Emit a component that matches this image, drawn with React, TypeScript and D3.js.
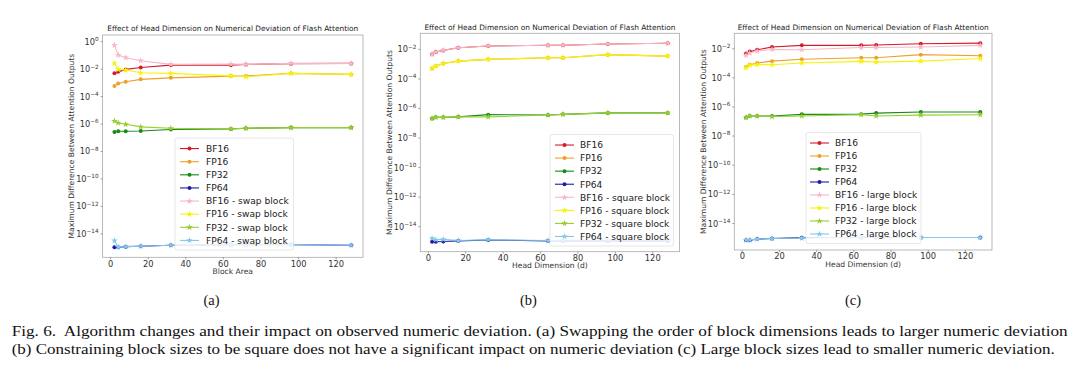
import React, { useEffect, useRef } from "react";
import * as d3 from "d3";

const W = 1080;
const H = 373;

// x positions shared by every series
const sizes = [2, 4, 8, 16, 32, 64, 72, 96, 128];
const precisions = ["BF16", "FP16", "FP32", "FP64"];
const baseColors = ["#d21c2c", "#f0a02a", "#178a17", "#1c1ca6"];
const variantColors = ["#f7b8c6", "#f4f40a", "#9acd32", "#86c8e8"];
const yTickExps = [0, -2, -4, -6, -8, -10, -12, -14];
const xTicks = [0, 20, 40, 60, 80, 100, 120];
const titleText = "Effect of Head Dimension on Numerical Deviation of Flash Attention";
const yLabelText = "Maximum Difference Between Attention Outputs";

// (a) swap block
const aBase = [
  [4.9e-3, 6.3e-3, 9.5e-3, 1.3e-2, 1.95e-2, 1.95e-2, 2.2e-2, 2.5e-2, 2.6e-2],
  [5.8e-4, 9.1e-4, 1.2e-3, 1.8e-3, 2.3e-3, 3.1e-3, 3.2e-3, 4.9e-3, 4.1e-3],
  [2.6e-7, 2.95e-7, 2.95e-7, 3.1e-7, 4.0e-7, 4.4e-7, 4.9e-7, 5.5e-7, 5.5e-7],
  [1.07e-15, 1.07e-15, 1.17e-15, 1.26e-15, 1.48e-15, 1.6e-15, 1.6e-15, 1.66e-15, 1.48e-15],
];
const aVariant = [
  [5.6e-1, 1.05e-1, 6.8e-2, 4.1e-2, 2.2e-2, 2.3e-2, 2.2e-2, 2.6e-2, 2.6e-2],
  [2.6e-2, 9.5e-3, 8.5e-3, 5.4e-3, 4.9e-3, 3.2e-3, 2.75e-3, 4.9e-3, 4.1e-3],
  [1.66e-6, 1.2e-6, 9.5e-7, 6.2e-7, 4.9e-7, 4.4e-7, 4.9e-7, 5.5e-7, 5.5e-7],
  [3.2e-15, 1.07e-15, 1.17e-15, 1.26e-15, 1.48e-15, 1.6e-15, 1.6e-15, 1.66e-15, 1.48e-15],
];

// (b) square block
const bBase = [
  [4.6e-3, 6.6e-3, 8.5e-3, 1.3e-2, 1.7e-2, 1.9e-2, 1.9e-2, 2.3e-2, 2.6e-2],
  [5.1e-4, 7.4e-4, 1.1e-3, 1.6e-3, 2.1e-3, 2.7e-3, 2.7e-3, 4.4e-3, 3.5e-3],
  [2.1e-7, 2.5e-7, 2.5e-7, 2.7e-7, 3.8e-7, 3.6e-7, 4.0e-7, 5.0e-7, 5.0e-7],
  [9.5e-16, 9.5e-16, 1.0e-15, 1.1e-15, 1.26e-15, 1.1e-15, 1.1e-15, 1.1e-15, 1.1e-15],
];
const bVariant = [
  [4.6e-3, 6.6e-3, 8.5e-3, 1.3e-2, 1.7e-2, 1.9e-2, 1.9e-2, 2.3e-2, 2.6e-2],
  [5.1e-4, 7.4e-4, 1.1e-3, 1.6e-3, 2.1e-3, 2.7e-3, 2.7e-3, 4.4e-3, 3.5e-3],
  [2.1e-7, 2.5e-7, 2.5e-7, 2.7e-7, 2.7e-7, 3.6e-7, 4.0e-7, 5.0e-7, 5.0e-7],
  [1.6e-15, 1.3e-15, 1.4e-15, 1.15e-15, 1.3e-15, 1.15e-15, 1.2e-15, 1.2e-15, 1.2e-15],
];

// (c) large block
const cBase = [
  [4.6e-3, 6.3e-3, 8.5e-3, 1.3e-2, 1.7e-2, 1.7e-2, 1.8e-2, 2.2e-2, 2.4e-2],
  [5.5e-4, 7.9e-4, 1.05e-3, 1.4e-3, 1.9e-3, 2.4e-3, 2.4e-3, 3.9e-3, 3.3e-3],
  [1.9e-7, 2.4e-7, 2.4e-7, 2.4e-7, 3.1e-7, 3.2e-7, 3.8e-7, 4.5e-7, 4.5e-7],
  [7.2e-16, 7.2e-16, 8.5e-16, 9.3e-16, 1.07e-15, 1.1e-15, 1.1e-15, 1.1e-15, 1.1e-15],
];
const cVariant = [
  [3.5e-3, 5.0e-3, 6.9e-3, 8.9e-3, 8.5e-3, 1.2e-2, 1.2e-2, 1.3e-2, 1.7e-2],
  [4.8e-4, 7.1e-4, 8.1e-4, 7.9e-4, 1.05e-3, 1.35e-3, 1.2e-3, 1.4e-3, 2.1e-3],
  [1.9e-7, 2.4e-7, 2.4e-7, 2.2e-7, 2.4e-7, 2.95e-7, 2.4e-7, 2.75e-7, 2.95e-7],
  [7.2e-16, 7.4e-16, 8.5e-16, 9.3e-16, 1.0e-15, 1.15e-15, 1.15e-15, 1.1e-15, 1.1e-15],
];

const panels = [
  {
    base: aBase, variant: aVariant, suffix: "swap block", xLabel: "Block Area", sub: "(a)", subX: 211.5,
    frame: { left: 102.6, right: 363, top: 35, bottom: 257.3 },
    legend: { x: 175, y: 138, w: 118.5, h: 112, hx: 180, tx: 206 },
  },
  {
    base: bBase, variant: bVariant, suffix: "square block", xLabel: "Head Dimension (d)", sub: "(b)", subX: 528.5,
    frame: { left: 420.3, right: 679.5, top: 33.3, bottom: 251.7 },
    legend: { x: 550, y: 134.5, w: 123.5, h: 111.5, hx: 555, tx: 580 },
  },
  {
    base: cBase, variant: cVariant, suffix: "large block", xLabel: "Head Dimension (d)", sub: "(c)", subX: 853,
    frame: { left: 734.3, right: 992, top: 33.3, bottom: 250 },
    legend: { x: 806, y: 132.5, w: 115, h: 111, hx: 810, tx: 835 },
  },
];

const captionLines = [
  "Fig. 6.  Algorithm changes and their impact on observed numeric deviation. (a) Swapping the order of block dimensions leads to larger numeric deviation",
  "(b) Constraining block sizes to be square does not have a significant impact on numeric deviation (c) Large block sizes lead to smaller numeric deviation.",
];
const captionWidths = [1056, 1043];

const sans = "DejaVu Sans, sans-serif";

const App = () => {
  const ref = useRef(null);

  useEffect(() => {
    const svg = d3.select(ref.current);
    svg.selectAll("*").remove();
    svg.append("rect").attr("width", W).attr("height", H).attr("fill", "#fff");

    panels.forEach((p) => {
      const f = p.frame;
      const g = svg.append("g");
      const all = [...p.base.flat(), ...p.variant.flat()];
      // matplotlib-like 5% margins (log space for y)
      const lo = Math.log10(d3.min(all));
      const hi = Math.log10(d3.max(all));
      const pad = (hi - lo) * 0.05;
      const y = d3.scaleLog().domain([10 ** (lo - pad), 10 ** (hi + pad)]).range([f.bottom, f.top]);
      const xPad = (d3.max(sizes) - d3.min(sizes)) * 0.05;
      const x = d3.scaleLinear().domain([d3.min(sizes) - xPad, d3.max(sizes) + xPad]).range([f.left, f.right]);

      g.append("rect")
        .attr("x", f.left).attr("y", f.top)
        .attr("width", f.right - f.left).attr("height", f.bottom - f.top)
        .attr("fill", "#fff").attr("stroke", "#a8a8a8").attr("stroke-width", 0.8);

      // y ticks
      yTickExps.forEach((e) => {
        const v = 10 ** e;
        if (v > y.domain()[1] || v < y.domain()[0]) return;
        const ty = y(v);
        g.append("line").attr("x1", f.left - 2).attr("x2", f.left).attr("y1", ty).attr("y2", ty)
          .attr("stroke", "#666").attr("stroke-width", 0.6);
        const t = g.append("text").attr("x", f.left - 4).attr("y", ty + 3)
          .attr("text-anchor", "end").attr("font-family", sans).attr("font-size", 8.2).attr("fill", "#333");
        t.append("tspan").text("10");
        t.append("tspan").attr("dy", -3.6).attr("font-size", 5.7).text(e === 0 ? "0" : "\u2212" + Math.abs(e));
      });

      // x ticks
      xTicks.forEach((v) => {
        const tx = x(v);
        g.append("line").attr("x1", tx).attr("x2", tx).attr("y1", f.bottom).attr("y2", f.bottom + 2)
          .attr("stroke", "#666").attr("stroke-width", 0.6);
        g.append("text").attr("x", tx).attr("y", f.bottom + 9.3).attr("text-anchor", "middle")
          .attr("font-family", sans).attr("font-size", 8.3).attr("fill", "#333").text(v);
      });

      g.append("text").attr("x", (f.left + f.right) / 2).attr("y", f.top - 3.6).attr("text-anchor", "middle")
        .attr("font-family", sans).attr("font-size", 7.4).attr("fill", "#222").text(titleText);
      g.append("text").attr("x", (f.left + f.right) / 2).attr("y", f.bottom + 16.5).attr("text-anchor", "middle")
        .attr("font-family", sans).attr("font-size", 7.6).attr("fill", "#333").text(p.xLabel);
      g.append("text")
        .attr("transform", `translate(${f.left - 28.5},${(f.top + f.bottom) / 2}) rotate(-90)`)
        .attr("text-anchor", "middle")
        .attr("font-family", sans).attr("font-size", 7.6).attr("fill", "#333").text(yLabelText);

      const line = d3.line().x((d) => x(d[0])).y((d) => y(d[1]));
      const star = d3.symbol().type(d3.symbolStar).size(14);

      const drawSeries = (vals, color, variant) => {
        const pts = sizes.map((s, i) => [s, vals[i]]);
        g.append("path").attr("d", line(pts)).attr("fill", "none")
          .attr("stroke", color).attr("stroke-width", 1.1);
        pts.forEach((d) => {
          if (variant) {
            g.append("path").attr("d", star())
              .attr("transform", `translate(${x(d[0])},${y(d[1])})`).attr("fill", color);
          } else {
            g.append("circle").attr("cx", x(d[0])).attr("cy", y(d[1])).attr("r", 2).attr("fill", color);
          }
        });
      };
      p.base.forEach((vals, i) => drawSeries(vals, baseColors[i], false));
      p.variant.forEach((vals, i) => drawSeries(vals, variantColors[i], true));

      // legend
      const L = p.legend;
      const lg = g.append("g");
      lg.append("rect").attr("x", L.x).attr("y", L.y).attr("width", L.w).attr("height", L.h).attr("rx", 2)
        .attr("fill", "#fff").attr("fill-opacity", 0.8).attr("stroke", "#dcdcdc").attr("stroke-width", 0.7);
      const entries = [
        ...precisions.map((n, i) => ({ label: n, color: baseColors[i], variant: false })),
        ...precisions.map((n, i) => ({ label: `${n} - ${p.suffix}`, color: variantColors[i], variant: true })),
      ];
      const rowH = (L.h - 7) / entries.length;
      entries.forEach((e, i) => {
        const ry = L.y + 7 + rowH * (i + 0.5) - 3;
        lg.append("line").attr("x1", L.hx).attr("x2", L.hx + 19).attr("y1", ry).attr("y2", ry)
          .attr("stroke", e.color).attr("stroke-width", 1.1);
        if (e.variant) {
          lg.append("path").attr("d", star()).attr("transform", `translate(${L.hx + 9.5},${ry})`).attr("fill", e.color);
        } else {
          lg.append("circle").attr("cx", L.hx + 9.5).attr("cy", ry).attr("r", 2).attr("fill", e.color);
        }
        lg.append("text").attr("x", L.tx).attr("y", ry + 3.3).attr("font-family", sans)
          .attr("font-size", 9.1).attr("fill", "#222").text(e.label);
      });

      svg.append("text").attr("x", p.subX).attr("y", 305).attr("text-anchor", "middle")
        .attr("font-family", "Liberation Serif, serif").attr("font-size", 14.5).attr("fill", "#111").text(p.sub);
    });

    captionLines.forEach((t, i) => {
      svg.append("text").attr("x", 11.7).attr("y", 335.5 + i * 18.5)
        .attr("font-family", "Liberation Serif, serif").attr("font-size", 15.5).attr("fill", "#111")
        .style("white-space", "pre")
        .attr("textLength", captionWidths[i]).attr("lengthAdjust", "spacingAndGlyphs").text(t);
    });
  }, []);

  return (
    <svg ref={ref} width={W} height={H} style={{ position: "absolute", left: 0, top: 0 }} />
  );
};

export default App;
